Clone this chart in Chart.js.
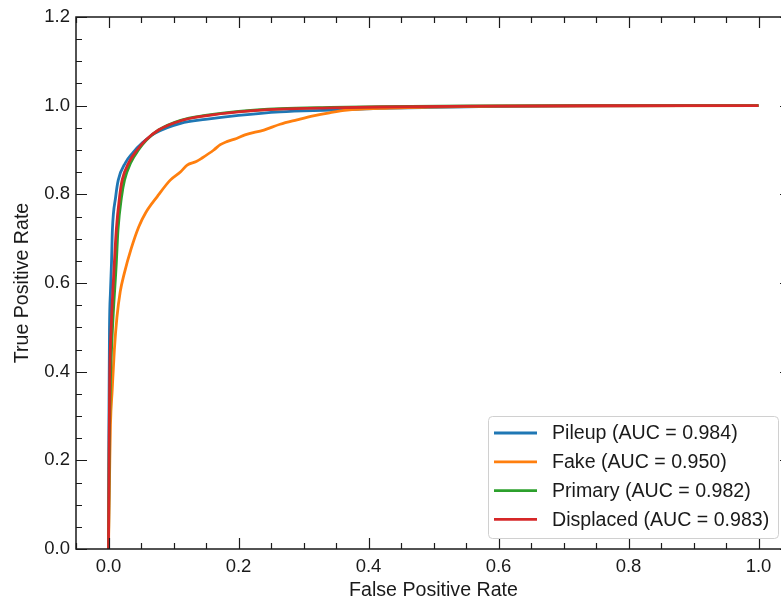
<!DOCTYPE html>
<html>
<head>
<meta charset="utf-8">
<script src="https://cdn.jsdelivr.net/npm/chart.js@4.4.1/dist/chart.umd.min.js"></script>
<style>
  html, body { margin: 0; padding: 0; overflow: hidden; background: #fff; }
  #roc { display: block; }
</style>
</head>
<body>
<canvas id="roc" width="800" height="600"></canvas>
<script>
// ---- data ----
const seriesNames = ['Pileup (AUC = 0.984)', 'Fake (AUC = 0.950)', 'Primary (AUC = 0.982)', 'Displaced (AUC = 0.983)'];
const seriesColors = ['#1f77b4', '#ff7f0e', '#2ca02c', '#d62728'];

const pileupFpr = [0, 0.0005, 0.0015, 0.003, 0.0046, 0.006, 0.011, 0.015, 0.026, 0.037, 0.052, 0.072, 0.111, 0.149, 0.2, 0.264, 0.341, 0.418, 0.571, 0.75, 1.0];
const pileupTpr = [0, 0.25, 0.494, 0.58, 0.645, 0.72, 0.794, 0.832, 0.871, 0.893, 0.916, 0.938, 0.960, 0.969, 0.978, 0.986, 0.990, 0.994, 0.998, 0.9995, 1.0];

const fakeFpr = [0, 0.001, 0.002, 0.003, 0.0057, 0.009, 0.013, 0.018, 0.024, 0.035, 0.0466, 0.057, 0.075, 0.095, 0.111, 0.121, 0.135, 0.144, 0.162, 0.172, 0.182, 0.197, 0.21, 0.239, 0.264, 0.29, 0.315, 0.34, 0.367, 0.418, 0.495, 0.6, 0.8, 1.0];
const fakeTpr = [0, 0.1, 0.2, 0.28, 0.359, 0.449, 0.523, 0.58, 0.62, 0.678, 0.727, 0.758, 0.795, 0.832, 0.851, 0.866, 0.874, 0.882, 0.900, 0.912, 0.919, 0.926, 0.934, 0.945, 0.958, 0.968, 0.977, 0.984, 0.990, 0.994, 0.997, 0.999, 0.9997, 1.0];

const primaryFpr = [0, 0.001, 0.003, 0.006, 0.012, 0.0146, 0.02, 0.0246, 0.034, 0.046, 0.058, 0.077, 0.111, 0.149, 0.2, 0.264, 0.341, 0.418, 0.571, 0.75, 1.0];
const primaryTpr = [0, 0.2, 0.38, 0.494, 0.645, 0.72, 0.794, 0.832, 0.871, 0.900, 0.922, 0.945, 0.967, 0.978, 0.987, 0.993, 0.996, 0.998, 0.9995, 1.0, 1.0];

const displacedFpr = [0, 0.001, 0.002, 0.004, 0.009, 0.012, 0.017, 0.021, 0.031, 0.044, 0.057, 0.077, 0.111, 0.149, 0.2, 0.264, 0.341, 0.418, 0.571, 0.75, 1.0];
const displacedTpr = [0, 0.25, 0.4, 0.494, 0.645, 0.72, 0.794, 0.832, 0.871, 0.900, 0.922, 0.945, 0.966, 0.977, 0.986, 0.992, 0.995, 0.997, 0.999, 0.9998, 1.0];

const xTickValues = [0.0, 0.2, 0.4, 0.6, 0.8, 1.0];
const xTickLabels = ['0.0', '0.2', '0.4', '0.6', '0.8', '1.0'];
const yTickValues = [0.0, 0.2, 0.4, 0.6, 0.8, 1.0, 1.2];
const yTickLabels = ['0.0', '0.2', '0.4', '0.6', '0.8', '1.0', '1.2'];
const xTitle = 'False Positive Rate';
const yTitle = 'True Positive Rate';

// =========================
// helpers
// =========================
function toPoints(xs, ys) {
    return xs.map((x, i) => ({ x: x, y: ys[i] }));
}

const FONT = '"Liberation Sans", Arial, Helvetica, sans-serif';
const INK = '#1a1a1a';

// frame, inward ticks, labels and legend drawn matplotlib-style
const sciAxesPlugin = {
    id: 'sciAxes',
    afterDatasetsDraw(chart) {
        const ctx = chart.ctx;
        const a = chart.chartArea;
        const xs = chart.scales.x;
        const ys = chart.scales.y;

        ctx.save();
        ctx.strokeStyle = INK;
        ctx.lineWidth = 1.5;
        ctx.strokeRect(a.left, a.top, a.right - a.left, a.bottom - a.top);

        // minor ticks every 0.05, majors every 0.2
        ctx.lineWidth = 1.2;
        for (let i = -1; i <= 21; i++) {
            const v = i * 0.05;
            if (v < xs.min - 1e-9 || v > xs.max + 1e-9) continue;
            const major = i % 4 === 0;
            const len = major ? 11 : 6;
            const px = Math.round(xs.getPixelForValue(v)) + 0.5;
            ctx.beginPath();
            ctx.moveTo(px, a.bottom); ctx.lineTo(px, a.bottom - len);
            ctx.moveTo(px, a.top); ctx.lineTo(px, a.top + len);
            ctx.stroke();
        }
        for (let i = 0; i <= 24; i++) {
            const v = i * 0.05;
            const major = i % 4 === 0;
            const len = major ? 11 : 6;
            const py = Math.round(ys.getPixelForValue(v)) + 0.5;
            ctx.beginPath();
            ctx.moveTo(a.left, py); ctx.lineTo(a.left + len, py);
            ctx.moveTo(a.right, py); ctx.lineTo(a.right - len, py);
            ctx.stroke();
        }

        // tick labels
        ctx.fillStyle = INK;
        ctx.font = '18.5px ' + FONT;
        ctx.textAlign = 'center';
        ctx.textBaseline = 'top';
        xTickValues.forEach((v, i) => {
            ctx.fillText(xTickLabels[i], xs.getPixelForValue(v), a.bottom + 9);
        });
        ctx.textAlign = 'right';
        ctx.textBaseline = 'middle';
        yTickValues.forEach((v, i) => {
            ctx.fillText(yTickLabels[i], a.left - 6, ys.getPixelForValue(v));
        });

        // axis titles
        ctx.font = '19.6px ' + FONT;
        ctx.textAlign = 'center';
        ctx.textBaseline = 'middle';
        ctx.fillText(xTitle, (a.left + a.right) / 2, 591);
        ctx.save();
        ctx.translate(23, (a.top + a.bottom) / 2);
        ctx.rotate(-Math.PI / 2);
        ctx.fillText(yTitle, 0, 0);
        ctx.restore();

        // legend box (lower right)
        const bx = 488.5, by = 416.5, bw = 290, bh = 122, r = 4;
        ctx.beginPath();
        ctx.moveTo(bx + r, by);
        ctx.arcTo(bx + bw, by, bx + bw, by + bh, r);
        ctx.arcTo(bx + bw, by + bh, bx, by + bh, r);
        ctx.arcTo(bx, by + bh, bx, by, r);
        ctx.arcTo(bx, by, bx + bw, by, r);
        ctx.closePath();
        ctx.fillStyle = 'rgba(255,255,255,0.85)';
        ctx.fill();
        ctx.strokeStyle = '#d0d0d0';
        ctx.lineWidth = 1;
        ctx.stroke();

        ctx.font = '19.6px ' + FONT;
        ctx.textAlign = 'left';
        ctx.textBaseline = 'middle';
        chart.data.datasets.forEach((ds, i) => {
            const rowY = 433 + i * 28.8;
            ctx.strokeStyle = ds.borderColor;
            ctx.lineWidth = 2.8;
            ctx.beginPath();
            ctx.moveTo(494, rowY); ctx.lineTo(537, rowY);
            ctx.stroke();
            ctx.fillStyle = INK;
            ctx.fillText(ds.label, 552, rowY + 1);
        });
        ctx.restore();
    }
};

const datasetsIn = [
    { fpr: pileupFpr, tpr: pileupTpr, order: 4 },
    { fpr: fakeFpr, tpr: fakeTpr, order: 3 },
    { fpr: primaryFpr, tpr: primaryTpr, order: 2 },
    { fpr: displacedFpr, tpr: displacedTpr, order: 1 }
];

const rocChart = new Chart(document.getElementById('roc').getContext('2d'), {
    type: 'line',
    data: {
        datasets: datasetsIn.map((d, i) => ({
            label: seriesNames[i],
            data: toPoints(d.fpr, d.tpr),
            borderColor: seriesColors[i],
            backgroundColor: seriesColors[i],
            borderWidth: 2.8,
            pointRadius: 0,
            cubicInterpolationMode: 'monotone',
            fill: false,
            order: d.order
        }))
    },
    options: {
        responsive: false,
        devicePixelRatio: 1,
        animation: false,
        layout: { padding: { left: 76, top: 17, right: 9, bottom: 51 } },
        plugins: { legend: { display: false }, tooltip: { enabled: false } },
        scales: {
            x: { type: 'linear', min: -0.05, max: 1.05, display: false },
            y: { type: 'linear', min: 0, max: 1.2, display: false }
        }
    },
    plugins: [sciAxesPlugin]
});
</script>
</body>
</html>
